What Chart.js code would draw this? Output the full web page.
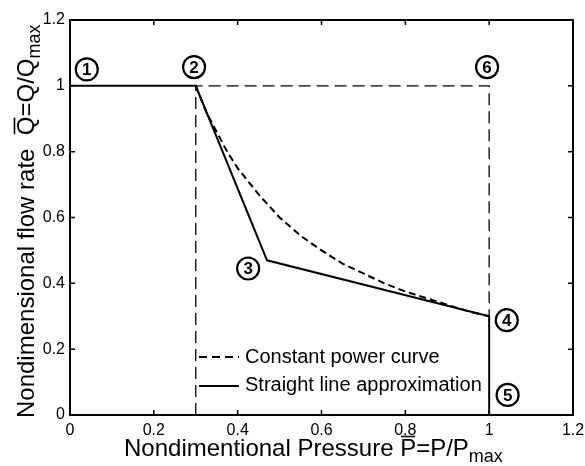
<!DOCTYPE html>
<html><head><meta charset="utf-8">
<script src="https://cdn.jsdelivr.net/npm/chart.js@4/dist/chart.umd.min.js"></script>
<style>html,body{margin:0;padding:0;background:#fff}canvas{display:block}</style>
</head><body>
<canvas id="c" width="585" height="466"></canvas>
<script>
// Axis tick labels (shared by both axes)
const tickLabels = ['0', '0.2', '0.4', '0.6', '0.8', '1', '1.2'];

// Straight line approximation: 1 -> 2 -> 3 -> 4 -> 5
const linePressure = [0, 0.3, 0.47, 1, 1];
const lineFlow = [1, 1, 0.47, 0.3, 0];

// Constant power curve between points 2 and 4
const curvePressure = [0.3, 0.325, 0.35, 0.375, 0.4, 0.45, 0.5, 0.55, 0.6, 0.65, 0.7, 0.75, 0.8, 0.85, 0.9, 0.95, 1.0];
const curveFlow = [1.0, 0.92, 0.86, 0.8, 0.75, 0.67, 0.6, 0.545, 0.5, 0.46, 0.43, 0.4, 0.375, 0.355, 0.335, 0.315, 0.3];

// Operating envelope (thin long dashes): 2 down to axis, 2 -> 6 -> 4
const boundPressure = [0.3, 0.3, 1, 1];
const boundFlow = [0, 1, 1, 0.3];

// Circled point numbers and their anchor positions (axis units)
const markerIds = ['1', '2', '3', '4', '5', '6'];
const markerPressure = [0.04, 0.296, 0.425, 1.042, 1.044, 0.995];
const markerFlow = [1.05, 1.057, 0.445, 0.288, 0.061, 1.057];

const legendLabels = ['Constant power curve', 'Straight line approximation'];

const FONT = '"Liberation Sans", Arial, sans-serif';
const zip = (xs, ys) => xs.map((x, i) => ({ x, y: ys[i] }));

const decorPlugin = {
  id: 'decor',
  afterDraw(chart) {
    const { ctx, chartArea: a, scales: { x, y } } = chart;
    ctx.save();
    ctx.strokeStyle = '#000';
    ctx.fillStyle = '#000';

    // Box frame with inward ticks on every side
    ctx.lineWidth = 2;
    ctx.strokeRect(a.left, a.top, a.right - a.left, a.bottom - a.top);
    ctx.lineWidth = 1.5;
    ctx.beginPath();
    const tl = 5;
    x.ticks.forEach(t => {
      const px = x.getPixelForValue(t.value);
      ctx.moveTo(px, a.bottom); ctx.lineTo(px, a.bottom - tl);
      ctx.moveTo(px, a.top); ctx.lineTo(px, a.top + tl);
    });
    y.ticks.forEach(t => {
      const py = y.getPixelForValue(t.value);
      ctx.moveTo(a.left, py); ctx.lineTo(a.left + tl, py);
      ctx.moveTo(a.right, py); ctx.lineTo(a.right - tl, py);
    });
    ctx.stroke();

    // Circled point numbers
    ctx.textAlign = 'center';
    ctx.textBaseline = 'middle';
    ctx.font = 'bold 17px ' + FONT;
    markerIds.forEach((id, i) => {
      const px = x.getPixelForValue(markerPressure[i]);
      const py = y.getPixelForValue(markerFlow[i]);
      ctx.lineWidth = 2.2;
      ctx.beginPath();
      ctx.arc(px, py, 11, 0, Math.PI * 2);
      ctx.stroke();
      ctx.fillText(id, px, py + 1);
    });

    // Legend (inside the plot, no frame)
    ctx.textAlign = 'left';
    ctx.textBaseline = 'alphabetic';
    ctx.font = '20px ' + FONT;
    const lx0 = a.left + 129, lx1 = a.left + 169, tx = a.left + 175;
    ctx.lineWidth = 2;
    ctx.setLineDash([8, 5]);
    ctx.beginPath(); ctx.moveTo(lx0, a.top + 337); ctx.lineTo(lx1, a.top + 337); ctx.stroke();
    ctx.setLineDash([]);
    ctx.beginPath(); ctx.moveTo(lx0, a.top + 366); ctx.lineTo(lx1, a.top + 366); ctx.stroke();
    ctx.fillText(legendLabels[0], tx, a.top + 343);
    ctx.fillText(legendLabels[1], tx, a.top + 371);

    // Axis titles with overlined symbols and subscripts
    const main = '24px ' + FONT, sub = '18px ' + FONT;
    const drawTitle = (prefix, sym, rest, subText) => {
      ctx.font = main;
      let cx = 0;
      ctx.fillText(prefix, cx, 0); cx += ctx.measureText(prefix).width;
      const sw = ctx.measureText(sym).width;
      ctx.fillText(sym, cx, 0);
      ctx.lineWidth = 1.6;
      ctx.beginPath(); ctx.moveTo(cx + 1, -19.5); ctx.lineTo(cx + sw - 1, -19.5); ctx.stroke();
      cx += sw;
      ctx.fillText(rest, cx, 0); cx += ctx.measureText(rest).width;
      ctx.font = sub;
      ctx.fillText(subText, cx, 6);
    };
    ctx.save();
    ctx.translate(124, 456);
    drawTitle('Nondimentional Pressure ', 'P', '=P/P', 'max');
    ctx.restore();
    ctx.save();
    ctx.translate(34, 418);
    ctx.rotate(-Math.PI / 2);
    drawTitle('Nondimensional flow rate  ', 'Q', '=Q/Q', 'max');
    ctx.restore();

    ctx.restore();
  }
};

const axisCommon = {
  type: 'linear', min: 0, max: 1.2,
  grid: { display: false, drawTicks: false },
  border: { display: false },
};

new Chart(document.getElementById('c'), {
  type: 'scatter',
  data: {
    datasets: [
      { label: legendLabels[1], data: zip(linePressure, lineFlow), showLine: true,
        borderColor: '#000', borderWidth: 2, pointRadius: 0, tension: 0 },
      { label: legendLabels[0], data: zip(curvePressure, curveFlow), showLine: true,
        borderColor: '#000', borderWidth: 2, borderDash: [7, 4], pointRadius: 0, tension: 0 },
      { label: 'envelope', data: zip(boundPressure, boundFlow), showLine: true,
        borderColor: '#000', borderWidth: 1.3, borderDash: [12, 6], pointRadius: 0, tension: 0 }
    ]
  },
  options: {
    responsive: false,
    animation: false,
    devicePixelRatio: 1,
    layout: { padding: { top: 20, right: 12, left: 0, bottom: 0 } },
    plugins: { legend: { display: false }, tooltip: { enabled: false } },
    scales: {
      x: { ...axisCommon,
        ticks: { stepSize: 0.2, padding: 6, color: '#000', font: { family: FONT, size: 16 },
          callback: (v, i) => tickLabels[i], maxRotation: 0, autoSkip: false },
        afterFit: s => { s.height = 51; s.paddingRight = 0; s.paddingLeft = 0; } },
      y: { ...axisCommon,
        ticks: { stepSize: 0.2, padding: 5, color: '#000', font: { family: FONT, size: 16 },
          callback: (v, i) => tickLabels[i], autoSkip: false },
        afterFit: s => { s.width = 70; s.paddingTop = 0; s.paddingBottom = 0; } }
    }
  },
  plugins: [decorPlugin]
});
</script>
</body></html>
